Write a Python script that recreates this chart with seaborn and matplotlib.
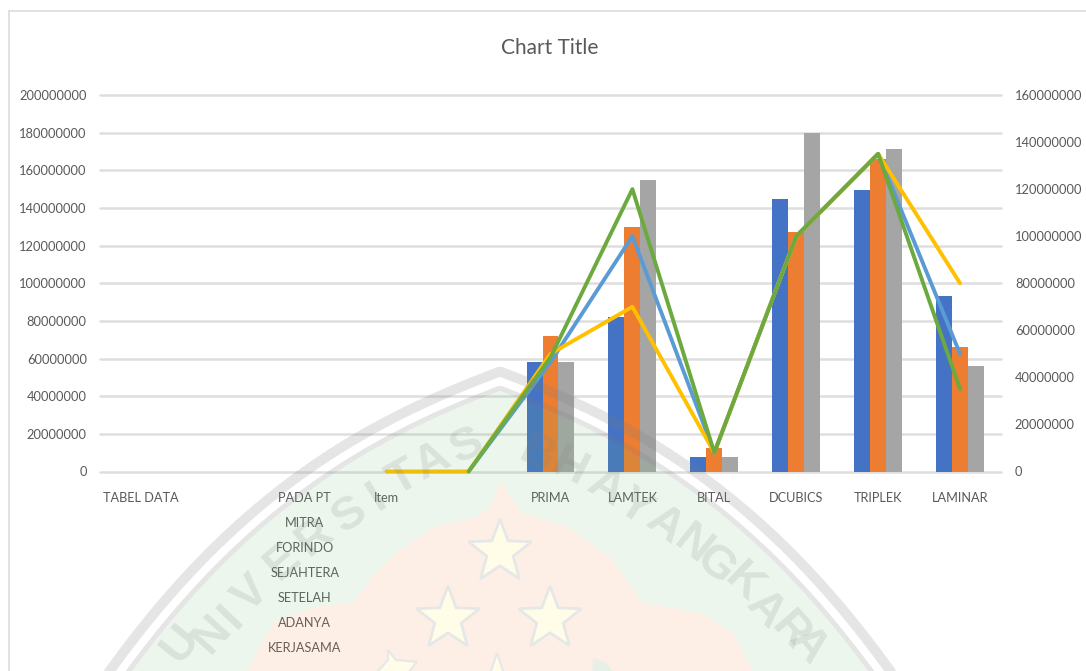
import numpy as np
import pandas as pd
import seaborn as sns
import matplotlib.pyplot as plt
from matplotlib.path import Path
from matplotlib.patches import PathPatch, Polygon

nan = float('nan')

categories = ['TABEL DATA', ' ', 'PADA PT\nMITRA\nFORINDO\nSEJAHTERA\nSETELAH\nADANYA\nKERJASAMA', 'Item', '  ',
              'PRIMA', 'LAMTEK', 'BITAL', 'DCUBICS', 'TRIPLEK', 'LAMINAR']

# columns, left axis
bar_1 = [nan, nan, nan, nan, nan, 58000000, 82000000, 7500000, 145000000, 149500000, 93000000]
bar_2 = [nan, nan, nan, nan, nan, 72000000, 130000000, 12500000, 127000000, 166000000, 66000000]
bar_3 = [nan, nan, nan, nan, nan, 58000000, 155000000, 7500000, 180000000, 171500000, 56000000]

# lines, right axis
line_1 = [nan, nan, nan, nan, 0, 46500000, 100000000, 8000000, 100000000, 135000000, 50000000]
line_2 = [nan, nan, nan, 0, 0, 50000000, 70000000, 8000000, 100000000, 135000000, 80000000]
line_3 = [nan, nan, nan, nan, 0, 48500000, 120000000, 8000000, 100000000, 135000000, 35000000]

bar_colors = ['#4472C4', '#ED7D31', '#A5A5A5']
line_colors = ['#5B9BD5', '#FFC000', '#6CA93F']

sns.set_theme(style='whitegrid')
plt.rcParams['font.family'] = ['Lato', 'DejaVu Sans']

W, H = 1086, 671
fig = plt.figure(figsize=(W / 100, H / 100), dpi=100)
ax = fig.add_axes([100 / W, 1 - 471.5 / H, 901 / W, 376.5 / H])

bars = pd.DataFrame({'cat': categories, 'b1': bar_1, 'b2': bar_2, 'b3': bar_3})
bars = bars.melt(id_vars='cat', var_name='series', value_name='value')
sns.barplot(data=bars, x='cat', y='value', hue='series', order=categories, palette=bar_colors,
            width=0.585, saturation=1, linewidth=0, edgecolor='none', legend=False, ax=ax)

ax.set_ylim(0, 200000000)
ax.set_yticks(np.arange(0, 200000001, 20000000))
ax.ticklabel_format(style='plain', axis='y')
ax.set_xlabel('')
ax.set_ylabel('')
ax.set_axisbelow(True)
ax.xaxis.grid(False)
ax.yaxis.grid(True, color='#dedede', linewidth=1.8)
for gl in ax.yaxis.get_gridlines():
    gl.set_clip_on(False)
ax.tick_params(axis='y', length=0, pad=9.5, labelsize=9.3, labelcolor='#595959')
ax.tick_params(axis='x', length=0, pad=15, labelsize=9.2, labelcolor='#595959')
for lab in ax.get_xticklabels():
    lab.set_linespacing(2.3)
sns.despine(ax=ax, left=True, bottom=True)

# second axis for the lines
ax2 = ax.twinx()
positions = list(range(len(categories)))
for vals, col in zip([line_1, line_2, line_3], line_colors):
    sns.lineplot(x=positions, y=vals, color=col, linewidth=2.8, ax=ax2, estimator=None, errorbar=None,
                 clip_on=False)
ax2.set_ylim(0, 160000000)
ax2.set_yticks(np.arange(0, 160000001, 20000000))
ax2.ticklabel_format(style='plain', axis='y')
ax2.grid(False)
ax2.set_ylabel('')
ax2.tick_params(axis='y', length=0, pad=10, labelsize=9.3, labelcolor='#595959')
sns.despine(ax=ax2, left=True, bottom=True, right=True)
ax.set_xlim(-0.5, 10.5)

fig.text(550 / W, 1 - 48 / H, 'Chart Title', ha='center', va='center', fontsize=15, color='#595959')

# overlay in pixel coords: page frame and the watermark on top of the chart
top = fig.add_axes([0, 0, 1, 1], zorder=10)
top.set_xlim(0, W)
top.set_ylim(H, 0)
top.set_axis_off()
top.patch.set_alpha(0)

top.plot([9, W], [11, 11], color='#dcdcdc', lw=1.2)
top.plot([9, 9], [11, H], color='#dcdcdc', lw=1.2)

edge_x = [117, 167, 233, 300, 367, 433, 500]
edge_y = [653, 590, 522, 470, 428, 391, 367]
coef = np.polyfit(edge_x, edge_y, 3)


def shield(offset):
    # left half of the shield outline pushed inwards, then mirrored
    xs = np.linspace(70, 500, 300)
    ys = np.polyval(coef, xs)
    slope = np.polyval(np.polyder(coef), xs)
    norm = np.sqrt(1 + slope ** 2)
    ox = xs - slope / norm * offset
    oy = ys + 1 / norm * offset
    keep = ox <= 500
    ox, oy = ox[keep], oy[keep]
    return np.r_[ox, 1000 - ox[::-1]], np.r_[oy, oy[::-1]]


for offset, width in [(5, 10), (20.5, 5)]:
    bx, by = shield(offset)
    top.plot(bx, by, color='#7f7f7f', alpha=0.2, lw=width * 0.72, solid_joinstyle='miter')

inner_x = [243, 273, 313, 353, 373, 400, 433, 477, 493, 500, 520, 567, 610, 643, 700, 733, 757]
inner_y = [680, 623, 607, 603, 577, 550, 527, 517, 503, 480, 512, 527, 557, 603, 613, 633, 680]

gx, gy = shield(23)
green_v = np.column_stack([gx, gy])
orange_v = np.column_stack([inner_x, inner_y])
green_path = Path.make_compound_path(Path(np.vstack([green_v, green_v[:1]]), closed=True),
                                     Path(np.vstack([orange_v[::-1], orange_v[-1:]]), closed=True))
top.add_patch(PathPatch(green_path, facecolor='#6fbf6f', alpha=0.13, edgecolor='none'))
top.add_patch(Polygon(orange_v, closed=True, facecolor='#f08040', alpha=0.13, edgecolor='none'))


def star(cx, cy, r):
    ang = np.deg2rad(np.arange(10) * 36 - 90)
    rad = np.where(np.arange(10) % 2 == 0, r, r * 0.42)
    return np.column_stack([cx + rad * np.cos(ang), cy + rad * np.sin(ang)])


for cx, cy in [(500, 552), (448, 619), (550, 619)]:
    top.add_patch(Polygon(star(cx, cy, 33), closed=True, facecolor='#fffde8', edgecolor='#e6e8e8', lw=2))

# bottom bits of the crest
top.add_patch(Polygon([[370, 680], [388, 660], [388, 650], [396, 660], [417, 662], [402, 680]], closed=True,
                      facecolor='#fffde8', edgecolor='#e6e8e8', lw=1.5))
top.add_patch(Polygon([[488, 680], [497, 653], [506, 680]], closed=True,
                      facecolor='#fffde8', edgecolor='#e6e8e8', lw=1.5))
top.add_patch(Polygon([[592, 680], [593, 658], [605, 662], [620, 680]], closed=True,
                      facecolor='#e6efe8', edgecolor='none'))

# watermark lettering, each letter turned to follow the shield
slope_fn = np.polyder(coef)
left_letters = 'UNIVERSITAS'
left_x = [180, 212, 232, 252, 283, 315, 350, 377, 403, 433, 467]
left_y = [644, 634, 617, 594, 562, 537, 515, 497, 478, 462, 447]
for ch, lx, ly in zip(left_letters, left_x, left_y):
    rot = np.degrees(np.arctan(-np.polyval(slope_fn, lx - 40)))
    top.text(lx, ly, ch, rotation=rot, rotation_mode='anchor', ha='center', va='center', fontsize=34,
             family='Liberation Sans', fontweight='bold', color='#7f7f7f', alpha=0.16)
right_letters = 'BHAYANGKARA'
right_x = [537, 570, 606, 634, 665, 693, 715, 743, 765, 790, 808]
right_y = [455, 468, 488, 508, 525, 545, 565, 583, 610, 632, 645]
for ch, lx, ly in zip(right_letters, right_x, right_y):
    rot = -np.degrees(np.arctan(-np.polyval(slope_fn, 1000 - lx - 40)))
    top.text(lx, ly, ch, rotation=rot, rotation_mode='anchor', ha='center', va='center', fontsize=34,
             family='Liberation Sans', fontweight='bold', color='#7f7f7f', alpha=0.16)

fig.savefig('out.png', dpi=100)
